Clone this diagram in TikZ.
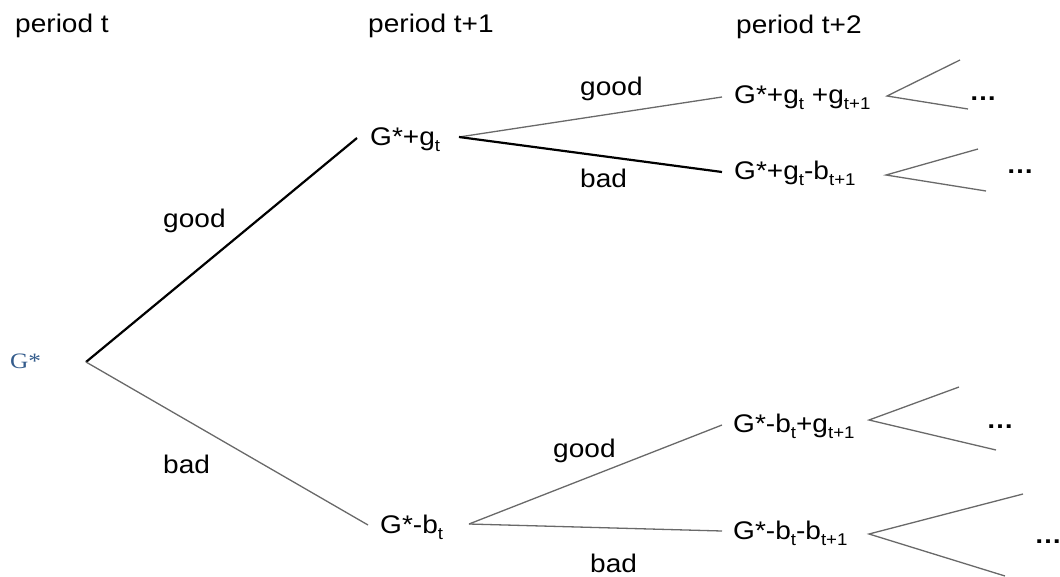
\documentclass[tikz,border=0pt]{standalone}
\usepackage{fontspec}
\setmainfont{Liberation Sans}
\newfontfamily\serifG{Liberation Serif}
\definecolor{gblue}{RGB}{52,92,140}
\definecolor{lgray}{RGB}{105,105,105}
\newcommand\lsub[1]{\raisebox{-6pt}{\fontsize{17}{17}\selectfont #1}}
\begin{document}
\begin{tikzpicture}[x=1pt,y=-1pt,
  txt/.style={anchor=base west, inner sep=0, xscale=1.1, font=\fontsize{25.5}{30}\selectfont},
  dots/.style={anchor=base, inner sep=0, xscale=1.1, font=\bfseries\fontsize{25}{30}\selectfont},
  thinline/.style={draw=lgray, line width=1.3pt},
  thickline/.style={draw=black, line width=2.2pt}]
\useasboundingbox (0,0) rectangle (1060,576);
% period headers
\node[txt] (pt)  at (15,32)  {period t};
\node[txt] (pt1) at (368,32) {period t+1};
\node[txt] (pt2) at (736,33) {period t+2};
% root
\node[anchor=base west, inner sep=0, xscale=1.15, text=gblue,
      font=\serifG\fontsize{22}{26}\selectfont] (root) at (10,368) {G*};
% state nodes
\node[txt] (n1)  at (370,145) {G*+g\lsub{t}};
\node[txt] (n2)  at (380,533) {G*-b\lsub{t}};
\node[txt] (n11) at (734,103) {G*+g\lsub{t} +g\lsub{t+1}};
\node[txt] (n12) at (734,179) {G*+g\lsub{t}-b\lsub{t+1}};
\node[txt] (n21) at (733,432) {G*-b\lsub{t}+g\lsub{t+1}};
\node[txt] (n22) at (733,539) {G*-b\lsub{t}-b\lsub{t+1}};
% branch labels
\node[txt] (good1) at (163,227) {good};
\node[txt] (bad1)  at (163,473) {bad};
\node[txt] (good2) at (580,95)  {good};
\node[txt] (bad2)  at (580,187) {bad};
\node[txt] (good3) at (553,457) {good};
\node[txt] (bad3)  at (590,572) {bad};
% dots
\node[dots] (d11) at (983,100)  {…};
\node[dots] (d12) at (1020,173) {…};
\node[dots] (d21) at (1000,428) {…};
\node[dots] (d22) at (1048,543) {…};
% branch coordinates
\coordinate (r)   at (86,362);
\coordinate (a1)  at (357,138);
\coordinate (a)   at (459,137);
\coordinate (b1)  at (368,525);
\coordinate (b)   at (469,524);
\coordinate (aa1) at (722,97);
\coordinate (ab1) at (722,172);
\coordinate (ba1) at (722,425);
\coordinate (bb1) at (722,531);
\coordinate (aa)  at (887,96);
\coordinate (aau) at (960,60);
\coordinate (aad) at (968,109);
\coordinate (ab)  at (886,175);
\coordinate (abu) at (978,149);
\coordinate (abd) at (986,191);
\coordinate (ba)  at (869,420);
\coordinate (bau) at (959,387);
\coordinate (bad) at (996,450);
\coordinate (bb)  at (869,534);
\coordinate (bbu) at (1023,494);
\coordinate (bbd) at (1005,576);
% branches
\draw[thickline] (r) -- (a1);
\draw[thinline]  (r) -- (b1);
\draw[thinline]  (a) -- (aa1);
\draw[thickline] (a) -- (ab1);
\draw[thinline]  (b) -- (ba1);
\draw[thinline]  (b) -- (bb1);
\draw[thinline]  (aau) -- (aa) -- (aad);
\draw[thinline]  (abu) -- (ab) -- (abd);
\draw[thinline]  (bau) -- (ba) -- (bad);
\draw[thinline]  (bbu) -- (bb) -- (bbd);
\end{tikzpicture}
\end{document}
